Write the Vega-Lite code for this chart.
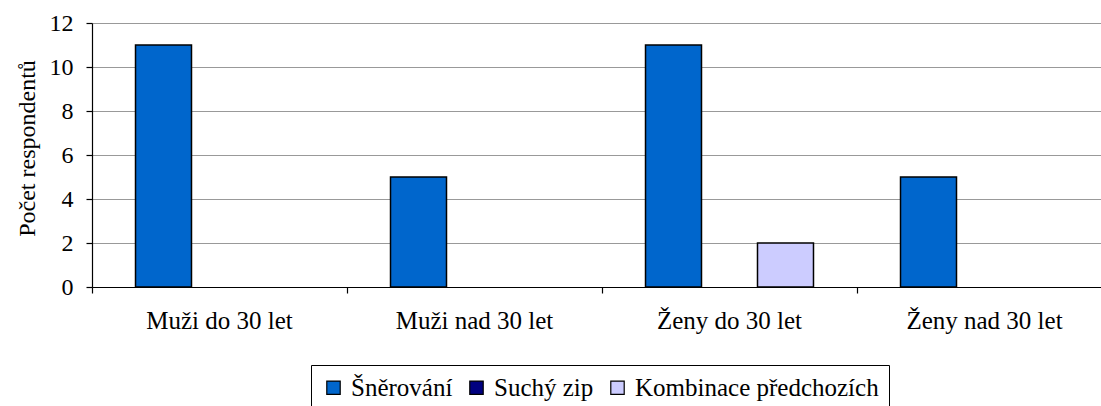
{
  "$schema": "https://vega.github.io/schema/vega-lite/v6.json",
  "width": 1009,
  "height": 264,
  "autosize": {"type": "none"},
  "padding": {"left": 92, "top": 23, "right": 0, "bottom": 119},
  "background": "white",
  "data": {
    "values": [
      {"skupina": "Muži do 30 let", "typ": "Šněrování", "pocet": 11},
      {"skupina": "Muži nad 30 let", "typ": "Šněrování", "pocet": 5},
      {"skupina": "Ženy do 30 let", "typ": "Šněrování", "pocet": 11},
      {"skupina": "Ženy do 30 let", "typ": "Kombinace předchozích", "pocet": 2},
      {"skupina": "Ženy nad 30 let", "typ": "Šněrování", "pocet": 5}
    ]
  },
  "mark": {"type": "bar", "stroke": "black", "strokeWidth": 1.5},
  "encoding": {
    "x": {
      "field": "skupina",
      "type": "nominal",
      "scale": {
        "domain": ["Muži do 30 let", "Muži nad 30 let", "Ženy do 30 let", "Ženy nad 30 let"],
        "paddingInner": 0, "paddingOuter": 0, "range": [0, 1020]
      },
      "axis": {
        "title": null,
        "labelAngle": 0,
        "bandPosition": 0,
        "labelFont": "Liberation Serif, Times New Roman, serif",
        "labelFontSize": 25,
        "labelColor": "black",
        "labelPadding": 15,
        "labelLimit": 0,
        "tickSize": 6,
        "tickColor": "black",
        "domainColor": "black",
        "grid": false
      }
    },
    "xOffset": {
      "field": "typ",
      "type": "nominal",
      "scale": {
        "domain": ["Šněrování", "Suchý zip", "Kombinace předchozích"],
        "paddingInner": 0, "paddingOuter": 0.777
      }
    },
    "y": {
      "field": "pocet",
      "type": "quantitative",
      "scale": {"domain": [0, 12], "nice": false},
      "axis": {
        "title": "Počet respondentů",
        "titleFont": "Liberation Serif, Times New Roman, serif",
        "titleFontSize": 24,
        "titleFontWeight": "normal",
        "titleColor": "black",
        "titleX": -65,
        "titleY": 125,
        "titleBaseline": "middle",
        "titleAngle": -90,
        "values": [0, 2, 4, 6, 8, 10, 12],
        "labelFont": "Liberation Serif, Times New Roman, serif",
        "labelFontSize": 24,
        "labelColor": "black",
        "labelPadding": 13,
        "tickSize": 6,
        "tickColor": "black",
        "domainColor": "black",
        "gridColor": "#999999",
        "gridWidth": 1.2
      }
    },
    "color": {
      "field": "typ",
      "type": "nominal",
      "scale": {
        "domain": ["Šněrování", "Suchý zip", "Kombinace předchozích"],
        "range": ["#0066CC", "#000080", "#CCCCFF"]
      },
      "legend": {
        "title": null,
        "orient": "none",
        "direction": "horizontal",
        "legendX": 219,
        "legendY": 342,
        "strokeColor": "black",
        "fillColor": "white",
        "padding": 10,
        "symbolType": "square",
        "symbolSize": 180,
        "symbolStrokeColor": "black",
        "symbolStrokeWidth": 1.2,
        "symbolOpacity": 1,
        "labelFont": "Liberation Serif, Times New Roman, serif",
        "labelFontSize": 25,
        "labelColor": "black",
        "labelLimit": 0,
        "labelOffset": 5,
        "columnPadding": 11
      }
    }
  },
  "config": {
    "font": "Liberation Serif, Times New Roman, serif",
    "view": {"stroke": null},
    "axis": {"domainWidth": 1.2, "tickWidth": 1.2}
  }
}
